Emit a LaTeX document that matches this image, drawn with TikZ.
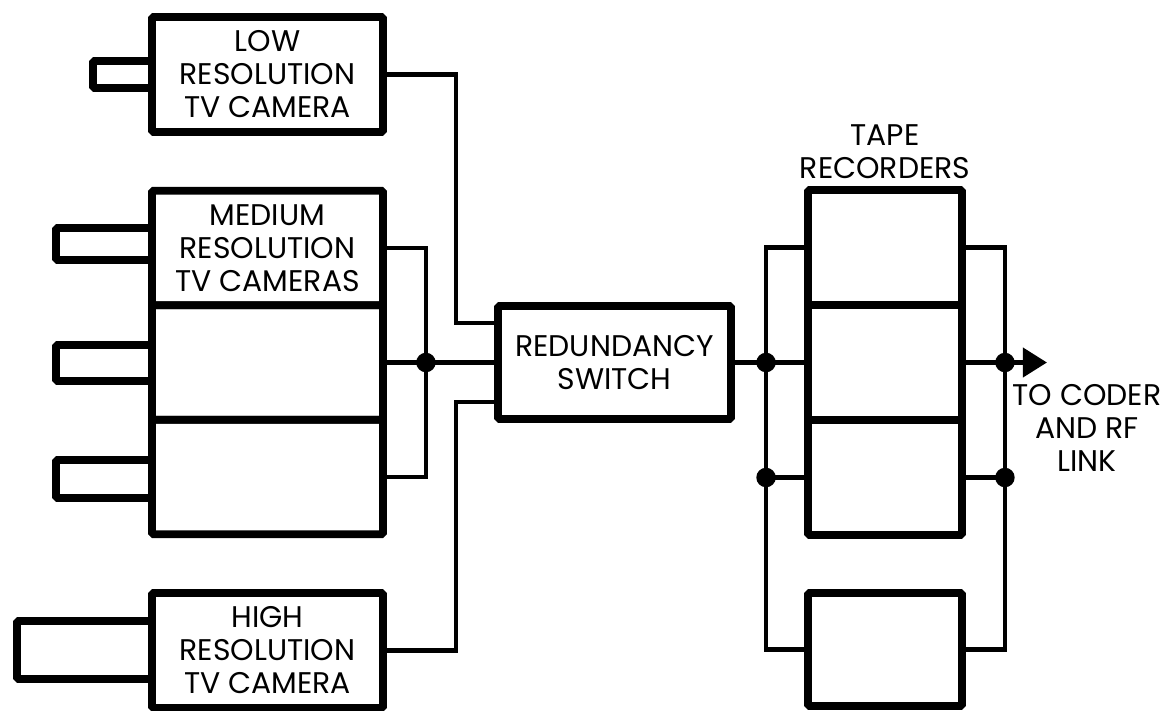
\documentclass[tikz,border=0pt]{standalone}
\usepackage{fontspec}
\setmainfont{Poppins}
\usetikzlibrary{arrows.meta,calc}

\tikzset{
  unit/.style={draw, line width=4.5pt, rounded corners=1pt, inner sep=0pt, align=center, font=\fontsize{17}{18.8}\selectfont},
  lbl/.style={inner sep=0pt, align=center, font=\fontsize{17}{18.8}\selectfont},
  wire/.style={line width=2.3pt},
  lens/.style={line width=4.5pt, rounded corners=1pt},
  dot/.style={circle, fill, inner sep=0pt, minimum size=0.39cm}
}

\begin{document}
\begin{tikzpicture}[x=0.02cm, y=-0.02cm]
		\useasboundingbox (0,0) rectangle (1173,710);

		% lenses
		\draw [lens] (152,61) -| (93,88) -- (152,88);
		\draw [lens] (152,228) -| (56,260) -- (152,260);
		\draw [lens] (152,345) -| (56,381) -- (152,381);
		\draw [lens] (152,460) -| (56,498) -- (152,498);
		\draw [lens] (152,621) -| (17,679) -- (152,679);

		% cameras
		\node [unit, minimum width=4.62cm, minimum height=2.3cm] (low) at (267.5,74.5) {LOW\\RESOLUTION\\TV CAMERA};
		\node [unit, minimum width=4.62cm, minimum height=2.29cm] (med1) at (267.5,248) {MEDIUM\\RESOLUTION\\TV CAMERAS};
		\node [unit, minimum width=4.62cm, minimum height=2.29cm] (med2) at (267.5,362.5) {};
		\node [unit, minimum width=4.62cm, minimum height=2.29cm] (med3) at (267.5,477) {};
		\node [unit, minimum width=4.62cm, minimum height=2.3cm] (high) at (267.5,650.5) {HIGH\\RESOLUTION\\TV CAMERA};

		% switch
		\node [unit, minimum width=4.66cm, minimum height=2.26cm] (sw) at (614.5,362.5) {REDUNDANCY\\SWITCH};

		% tape recorders
		\node [lbl] (tapelbl) at (885,152) {TAPE\\RECORDERS};
		\node [unit, minimum width=3.08cm, minimum height=2.3cm] (tape1) at (885,247.5) {};
		\node [unit, minimum width=3.08cm, minimum height=2.3cm] (tape2) at (885,362.5) {};
		\node [unit, minimum width=3.08cm, minimum height=2.3cm] (tape3) at (885,477.5) {};
		\node [unit, minimum width=3.08cm, minimum height=2.26cm] (tape4) at (885,649.5) {};

		\node [lbl] (dest) at (1087,428) {TO CODER\\AND RF\\LINK};

		% junctions
		\coordinate (swin1) at ($(sw.west)+(0,-39.5)$);
		\coordinate (swin3) at ($(sw.west)+(0,39.5)$);
		\coordinate (mj) at ($(med2.east)+(39,0)$);
		\coordinate (lj) at ($(tape2.west)+(-38,0)$);
		\coordinate (rj) at ($(tape2.east)+(39,0)$);
		\coordinate (out) at ($(rj)+(42,0)$);

		\draw [wire] (low.east) -| ($(swin1)+(-38,0)$) -- (swin1);
		\draw [wire] (high.east) -| ($(swin3)+(-38,0)$) -- (swin3);
		\draw [wire] (med1.east) -| (mj) |- (med3.east);
		\draw [wire] (med2.east) -- (mj) -- (sw.west);

		\draw [wire] (tape1.west) -| (lj) |- (tape4.west);
		\draw [wire] (sw.east) -- (lj) -- (tape2.west);
		\draw [wire] (lj |- tape3.west) -- (tape3.west);
		\draw [wire] (tape1.east) -| (rj) |- (tape4.east);
		\draw [wire] (rj |- tape3.east) -- (tape3.east);
		\draw [wire, -{Triangle[length=0.48cm, width=0.58cm]}] (tape2.east) -- (rj) -- (out);

		\node [dot] (mjdot) at (mj) {};
		\node [dot] (ljdot) at (lj) {};
		\node [dot] (lj3dot) at (lj |- tape3.west) {};
		\node [dot] (rjdot) at (rj) {};
		\node [dot] (rj3dot) at (rj |- tape3.east) {};

\end{tikzpicture}
\end{document}
